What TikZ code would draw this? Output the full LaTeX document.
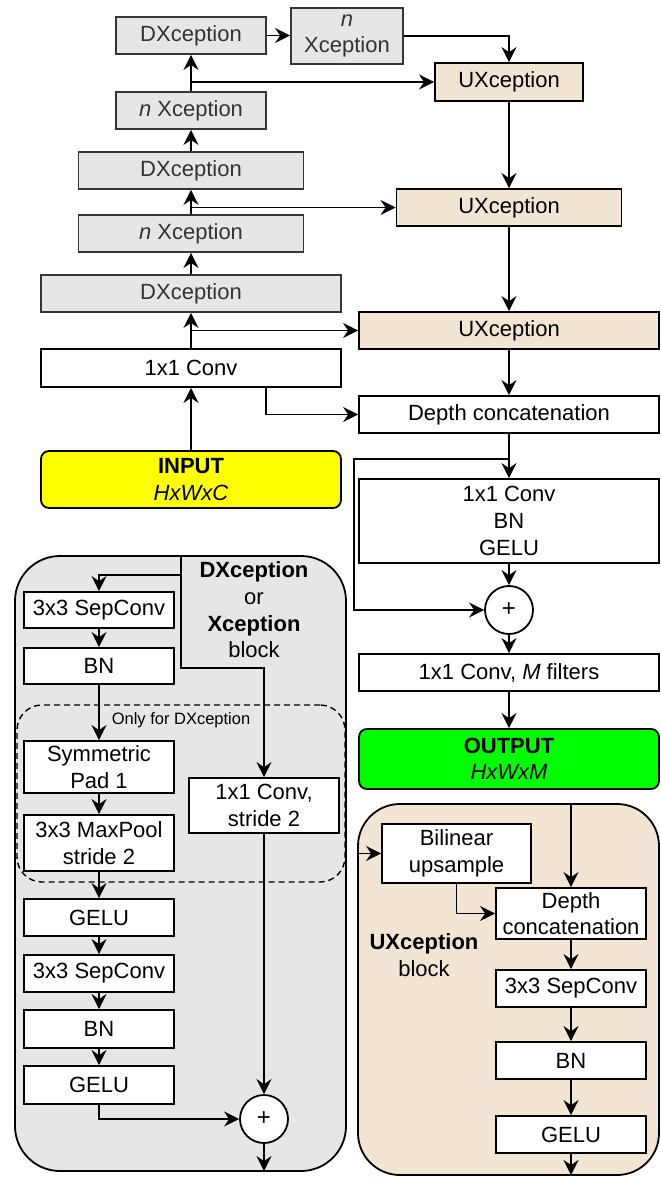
\documentclass[tikz,border=0pt]{standalone}
\usepackage{fontspec}
\setmainfont{Liberation Sans}
\usetikzlibrary{arrows.meta,calc}
\definecolor{boxgray}{HTML}{E6E6E6}
\definecolor{edgegray}{HTML}{363636}
\definecolor{txtgray}{HTML}{333333}
\definecolor{beige}{HTML}{F2E5D3}
\definecolor{inyellow}{HTML}{FFFF00}
\definecolor{outgreen}{HTML}{00FF00}
\newcommand\bigfs{\fontsize{22}{26.6}\selectfont}
\newcommand\smallfs{\fontsize{16.5}{19.8}\selectfont}
\begin{document}
\begin{tikzpicture}[x=1pt,y=-1pt,
  base/.style={draw=black, line width=1.8pt, inner sep=0pt, align=center, font=\bigfs},
  gbox/.style={base, fill=boxgray, draw=edgegray, text=txtgray},
  wbox/.style={base, fill=white},
  ubox/.style={base, fill=beige},
  iobox/.style={base, rounded corners=8pt},
  plusnode/.style={draw=black, line width=1.8pt, circle, fill=white, minimum size=48pt, inner sep=0pt, font=\fontsize{24}{26}\selectfont},
  arr/.style={-{Stealth[length=15pt,width=15pt,inset=5pt]}, line width=1.8pt},
  blk/.style={draw=black, line width=1.8pt, inner sep=0pt},
]
\useasboundingbox[fill=white] (0,0) rectangle (661,1178);

% ---------- containers ----------
\node[blk, fill=boxgray, rounded corners=45pt, minimum width=331pt, minimum height=615pt] (dxblk) at (180.5,863.5) {};
\node[blk, fill=beige, rounded corners=42pt, minimum width=301pt, minimum height=371pt] (uxblk) at (508.5,989.5) {};
\node[draw=black, line width=1.4pt, dash pattern=on 6pt off 4pt, rounded corners=25pt, inner sep=0pt, minimum width=328pt, minimum height=177pt] (dashbox) at (181,793.5) {};

% ---------- top encoder / decoder ----------
\node[gbox, minimum width=150pt, minimum height=37pt] (dx1) at (191,35.5) {DXception};
\node[gbox, minimum width=112pt, minimum height=56pt] (nx1) at (347,36) {\textit{n}\\Xception};
\node[ubox, minimum width=148pt, minimum height=38pt] (ux1) at (509,82) {UXception};
\node[gbox, minimum width=150pt, minimum height=37pt] (nx2) at (191,110.5) {\textit{n} Xception};
\node[gbox, minimum width=225pt, minimum height=37pt] (dx2) at (191,170.5) {DXception};
\node[gbox, minimum width=225pt, minimum height=37pt] (nx3) at (191,233.5) {\textit{n} Xception};
\node[ubox, minimum width=225pt, minimum height=37pt] (ux2) at (509,207.5) {UXception};
\node[gbox, minimum width=300pt, minimum height=37pt] (dx3) at (191,293.5) {DXception};
\node[wbox, minimum width=300pt, minimum height=38pt] (conv1) at (191,368) {1x1 Conv};
\node[ubox, minimum width=300pt, minimum height=37pt] (ux3) at (509,330.5) {UXception};
\node[wbox, minimum width=300pt, minimum height=37pt] (dcat) at (509,414.5) {Depth concatenation};
\node[iobox, fill=inyellow, minimum width=300pt, minimum height=57pt] (input) at (191,479.5) {\textbf{INPUT}\\\textit{HxWxC}};
\node[wbox, minimum width=300pt, minimum height=84pt] (cbg) at (509,521) {1x1 Conv\\BN\\GELU};
\node[plusnode] (plus1) at (509,610) {+};
\node[wbox, minimum width=300pt, minimum height=37pt] (convM) at (509,672.5) {1x1 Conv, \textit{M} filters};
\node[iobox, fill=outgreen, minimum width=300pt, minimum height=60pt] (output) at (509,759) {\textbf{OUTPUT}\\\textit{HxWxM}};

\coordinate (b1) at (191,82);
\coordinate (b2) at (191,207.5);
\coordinate (b3) at (191,330.5);
\coordinate (b4) at (509,459);
\coordinate (b4l) at (354,459);

\draw[arr] (dx1.east) -- (dx1.east -| nx1.west);
\draw[arr] (nx1.east) -| (ux1.north);
\draw[arr] (nx2.north) -- (dx1.south);
\draw[arr] (b1) -- (ux1.west);
\draw[arr] (dx2.north) -- (nx2.south);
\draw[arr] (nx3.north) -- (dx2.south);
\draw[arr] (b2) -- (ux2.west);
\draw[arr] (dx3.north) -- (nx3.south);
\draw[arr] (conv1.north) -- (dx3.south);
\draw[arr] (b3) -- (ux3.west);
\draw[arr] (input.north) -- (conv1.south);
\draw[arr] ([xshift=75pt]conv1.south) |- (dcat.west);
\draw[arr] (ux1.south) -- (ux2.north);
\draw[arr] (ux2.south) -- (ux3.north);
\draw[arr] (ux3.south) -- (dcat.north);
\draw[arr] (dcat.south) -- (cbg.north);
\draw[arr] (b4) -- (b4l) |- (plus1.west);
\draw[arr] (cbg.south) -- (plus1.north);
\draw[arr] (plus1.south) -- (convM.north);
\draw[arr] (convM.south) -- (output.north);

% ---------- DXception / Xception block ----------
\node[align=center, font=\bigfs, inner sep=0pt] (dxlabel) at (254,610) {\textbf{DXception}\\or\\\textbf{Xception}\\block};
\node[font=\smallfs, inner sep=0pt] (onlylbl) at (181,720) {Only for DXception};
\node[wbox, minimum width=150pt, minimum height=36pt] (sep1) at (99,610) {3x3 SepConv};
\node[wbox, minimum width=150pt, minimum height=36pt] (bn1) at (99,666) {BN};
\node[wbox, minimum width=150pt, minimum height=52pt] (sym) at (99,767) {Symmetric\\Pad 1};
\node[wbox, minimum width=150pt, minimum height=56pt] (mp) at (99,843) {3x3 MaxPool\\stride 2};
\node[wbox, minimum width=150pt, minimum height=55pt] (c12) at (264,805.5) {1x1 Conv,\\stride 2};
\node[wbox, minimum width=150pt, minimum height=37pt] (gelu1) at (99,917.5) {GELU};
\node[wbox, minimum width=150pt, minimum height=37pt] (sep2) at (99,973.5) {3x3 SepConv};
\node[wbox, minimum width=150pt, minimum height=38pt] (bn2) at (99,1029) {BN};
\node[wbox, minimum width=150pt, minimum height=38pt] (gelu2) at (99,1085) {GELU};
\node[plusnode] (plus2) at (264,1119) {+};

\coordinate (dxin) at (181,556);
\coordinate (dxs) at (181,575);
\coordinate (dxs2) at (181,668);
\coordinate (dxout) at (264,1171);

\draw[arr] (dxin) -- (dxs) -| (sep1.north);
\draw[arr] (dxs) -- (dxs2) -| (c12.north);
\draw[arr] (sep1.south) -- (bn1.north);
\draw[arr] (bn1.south) -- (sym.north);
\draw[arr] (sym.south) -- (mp.north);
\draw[arr] (mp.south) -- (gelu1.north);
\draw[arr] (gelu1.south) -- (sep2.north);
\draw[arr] (sep2.south) -- (bn2.north);
\draw[arr] (bn2.south) -- (gelu2.north);
\draw[arr] (gelu2.south) |- (plus2.west);
\draw[arr] (c12.south) -- (plus2.north);
\draw[arr] (plus2.south) -- (dxout);

% ---------- UXception block ----------
\node[align=center, font=\bigfs, inner sep=0pt] (uxlabel) at (424,955) {\textbf{UXception}\\block};
\node[wbox, minimum width=149pt, minimum height=59pt] (bil) at (456.5,853.5) {Bilinear\\upsample};
\node[wbox, minimum width=150pt, minimum height=51pt] (dc2) at (571,913.5) {Depth\\concatenation};
\node[wbox, minimum width=150pt, minimum height=37pt] (sep3) at (571,988.5) {3x3 SepConv};
\node[wbox, minimum width=150pt, minimum height=37pt] (bn3) at (571,1060.5) {BN};
\node[wbox, minimum width=150pt, minimum height=37pt] (gelu3) at (571,1134.5) {GELU};

\coordinate (uxin) at (571,804);
\coordinate (uxl) at (358,853.5);
\coordinate (uxout) at (571,1175);

\draw[arr] (uxin) -- (dc2.north);
\draw[arr] (uxl) -- (bil.west);
\draw[arr] (bil.south) |- (dc2.west);
\draw[arr] (dc2.south) -- (sep3.north);
\draw[arr] (sep3.south) -- (bn3.north);
\draw[arr] (bn3.south) -- (gelu3.north);
\draw[arr] (gelu3.south) -- (uxout);
\end{tikzpicture}
\end{document}
